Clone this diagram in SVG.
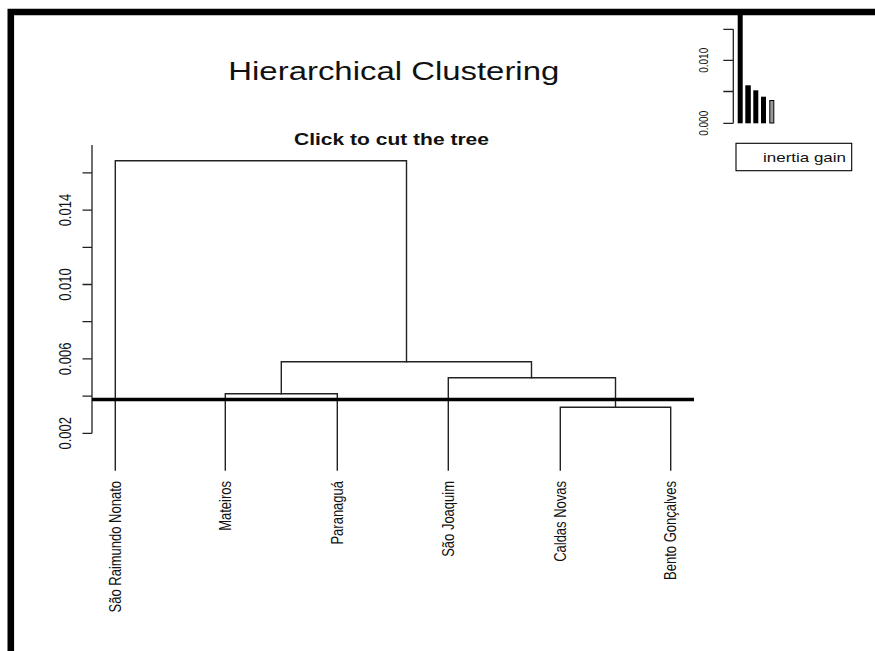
<svg xmlns="http://www.w3.org/2000/svg" width="875" height="651" viewBox="0 0 875 651">
<style>
  .t { font-family: "Liberation Sans", Arial, sans-serif; fill: #111; }
  .lbl { font-size: 13px; }
  .ax { stroke: #222; stroke-width: 1.3; fill: none; }
  .tree { stroke: #222; stroke-width: 1.4; fill: none; stroke-linecap: square; }
</style>
<rect x="0" y="0" width="875" height="651" fill="#fff"/>
<!-- frame -->
<path d="M 10.8 651 V 12 H 875" fill="none" stroke="#000" stroke-width="6.6"/>

<!-- titles -->
<text class="t" x="228.3" y="80" font-size="25.5" textLength="331" lengthAdjust="spacingAndGlyphs">Hierarchical Clustering</text>
<text class="t" x="294" y="145" font-size="16.5" font-weight="bold" textLength="195" lengthAdjust="spacingAndGlyphs">Click to cut the tree</text>

<!-- y axis -->
<g id="y-axis">
  <path class="ax" d="M 92 145 V 433.3 M 82.5 172.9 H 92 M 82.5 210.1 H 92 M 82.5 247.3 H 92 M 82.5 284.5 H 92 M 82.5 321.7 H 92 M 82.5 358.9 H 92 M 82.5 396.1 H 92 M 82.5 433.3 H 92"/>
  <text class="t lbl" text-anchor="middle" transform="translate(71,210.1) scale(1.3,1) rotate(-90)">0.014</text>
  <text class="t lbl" text-anchor="middle" transform="translate(71,284.5) scale(1.3,1) rotate(-90)">0.010</text>
  <text class="t lbl" text-anchor="middle" transform="translate(71,358.9) scale(1.3,1) rotate(-90)">0.006</text>
  <text class="t lbl" text-anchor="middle" transform="translate(71,433.3) scale(1.3,1) rotate(-90)">0.002</text>
</g>

<!-- dendrogram connectors -->
<g id="connectors">
  <path class="tree" d="M 115.3 470 V 160.7 H 406.5 V 361.7"/>
  <path class="tree" d="M 281.3 393.7 V 361.7 H 531.5 V 377.7"/>
  <path class="tree" d="M 225.3 470 V 393.7 H 337.3 V 470"/>
  <path class="tree" d="M 448.3 470 V 377.7 H 615.5 V 407.3"/>
  <path class="tree" d="M 560.3 470 V 407.3 H 670.7 V 470"/>
</g>

<!-- leaves -->
<g id="leaf-sao-raimundo-nonato"><text class="t lbl" text-anchor="end" transform="translate(120.5,481) scale(1.3,1) rotate(-90)">São Raimundo Nonato</text></g>
<g id="leaf-mateiros"><text class="t lbl" text-anchor="end" transform="translate(230.5,481) scale(1.3,1) rotate(-90)">Mateiros</text></g>
<g id="leaf-paranagua"><text class="t lbl" text-anchor="end" transform="translate(342.5,481) scale(1.3,1) rotate(-90)">Paranaguá</text></g>
<g id="leaf-sao-joaquim"><text class="t lbl" text-anchor="end" transform="translate(453.5,481) scale(1.3,1) rotate(-90)">São Joaquim</text></g>
<g id="leaf-caldas-novas"><text class="t lbl" text-anchor="end" transform="translate(565.5,481) scale(1.3,1) rotate(-90)">Caldas Novas</text></g>
<g id="leaf-bento-goncalves"><text class="t lbl" text-anchor="end" transform="translate(675.9,481) scale(1.3,1) rotate(-90)">Bento Gonçalves</text></g>

<!-- cut line -->
<line id="cut-line" x1="92" y1="399.5" x2="694" y2="399.5" stroke="#000" stroke-width="3.6"/>

<!-- inset: inertia gain bar chart -->
<g id="inertia-chart">
  <path class="ax" d="M 733.3 29.3 V 123.3 M 723.3 29.3 H 733.3 M 723.3 60.3 H 733.3 M 723.3 91.5 H 733.3 M 723.3 123.3 H 733.3"/>
  <text class="t" font-size="10" text-anchor="middle" transform="translate(708,60.3) scale(1.3,1) rotate(-90)">0.010</text>
  <text class="t" font-size="10" text-anchor="middle" transform="translate(708,123.3) scale(1.3,1) rotate(-90)">0.000</text>
  <rect x="737.7" y="15" width="5" height="108.3" fill="#000"/>
  <rect x="745.3" y="85.3" width="5.5" height="38" fill="#000"/>
  <rect x="753.3" y="90.3" width="5" height="33" fill="#000"/>
  <rect x="761" y="96.7" width="5" height="26.6" fill="#000"/>
  <rect x="769.8" y="100.5" width="4" height="22.5" fill="#999" stroke="#000" stroke-width="1"/>
</g>
<g id="legend">
  <rect x="736" y="143.3" width="115.7" height="27.4" fill="#fff" stroke="#000" stroke-width="1.1"/>
  <text class="t" x="763" y="162.3" font-size="13" textLength="83" lengthAdjust="spacingAndGlyphs">inertia gain</text>
</g>
</svg>
